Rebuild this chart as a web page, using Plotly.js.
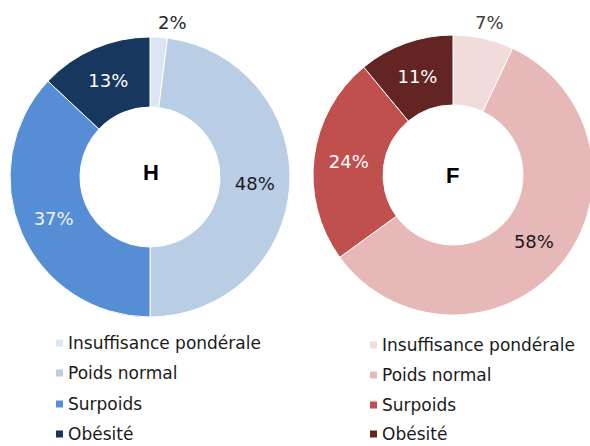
<!DOCTYPE html>
<html>
<head>
<meta charset="utf-8">
<script src="https://cdn.plot.ly/plotly-3.0.1.min.js"></script>
<style>
html,body{margin:0;padding:0;overflow:hidden;background:#fff;}
#chart{width:594px;height:446px;}
</style>
</head>
<body>
<div id="chart"></div>
<script>
// Data
const categories = ["Insuffisance pondérale", "Poids normal", "Surpoids", "Obésité"];
const valuesH = [2, 48, 37, 13];
const valuesF = [7, 58, 24, 11];
const groupLabels = ["H", "F"];

// Styles
const colorsH = ["#DCE6F2", "#B9CDE5", "#558ED5", "#17375E"];
const colorsF = ["#F2DCDB", "#E6B9B8", "#C0504D", "#632523"];
const textColorsH = ["#262626", "#1a1a1a", "#f2f2f2", "#ffffff"];
const textColorsF = ["#404040", "#1a1a1a", "#ffffff", "#ffffff"];
// first (small) slice gets its label placed above the ring
const positions = ["none", "inside", "inside", "inside"];
const pctFont = "DejaVu Sans, Verdana, sans-serif";

const W = 594, H = 446;
const px = x => x / W;
const py = y => 1 - y / H;

function donut(values, colors, textColors, dom) {
  return {
    type: "pie",
    labels: categories,
    values: values,
    hole: 0.5,
    sort: false,
    direction: "clockwise",
    rotation: 0,
    domain: dom,
    marker: {colors: colors, line: {color: "#ffffff", width: 1}},
    texttemplate: "%{value}%",
    textposition: positions,
    insidetextorientation: "horizontal",
    textfont: {family: pctFont, size: 18, color: textColors},
    showlegend: false,
    hoverinfo: "label+percent"
  };
}

const data = [
  donut(valuesH, colorsH, textColorsH, {x: [px(10), px(290)], y: [py(317), py(37)]}),
  donut(valuesF, colorsF, textColorsF, {x: [px(313), px(593)], y: [py(315), py(35)]})
];

const annotations = [
  {text: "<b>" + groupLabels[0] + "</b>", x: px(151), y: py(172), xref: "paper", yref: "paper",
   xanchor: "center", yanchor: "middle",
   showarrow: false, font: {family: "Liberation Sans, Arial, sans-serif", size: 22, color: "#000"}},
  {text: "<b>" + groupLabels[1] + "</b>", x: px(452), y: py(175), xref: "paper", yref: "paper",
   xanchor: "center", yanchor: "middle",
   showarrow: false, font: {family: "Liberation Sans, Arial, sans-serif", size: 22, color: "#000"}},
  {text: valuesH[0] + "%", x: px(172), y: py(22.5), xref: "paper", yref: "paper",
   xanchor: "center", yanchor: "middle",
   showarrow: false, font: {family: pctFont, size: 18, color: textColorsH[0]}},
  {text: valuesF[0] + "%", x: px(489), y: py(22), xref: "paper", yref: "paper",
   xanchor: "center", yanchor: "middle",
   showarrow: false, font: {family: pctFont, size: 18, color: textColorsF[0]}}
];
const shapes = [];

const legendRowsL = [343, 373, 404, 434];
const legendRowsR = [345, 375, 405, 434];
function addLegend(colors, xSq, xTxt, rows) {
  categories.forEach((c, i) => {
    shapes.push({type: "rect", xref: "paper", yref: "paper",
      x0: px(xSq), x1: px(xSq + 7), y0: py(rows[i] + 3.5), y1: py(rows[i] - 3.5),
      fillcolor: colors[i], line: {width: 0}});
    annotations.push({text: c, x: px(xTxt), y: py(rows[i]), xref: "paper", yref: "paper",
      xanchor: "left", yanchor: "middle", showarrow: false, borderpad: 0,
      font: {family: "DejaVu Sans, Verdana, sans-serif", size: 17, color: "#1a1a1a"}});
  });
}
addLegend(colorsH, 56, 67, legendRowsL);
addLegend(colorsF, 370, 381, legendRowsR);

const layout = {
  width: W, height: H,
  margin: {l: 0, r: 0, t: 0, b: 0},
  paper_bgcolor: "#ffffff",
  showlegend: false,
  annotations: annotations,
  shapes: shapes
};

Plotly.newPlot("chart", data, layout, {displayModeBar: false, staticPlot: true});
</script>
</body>
</html>
